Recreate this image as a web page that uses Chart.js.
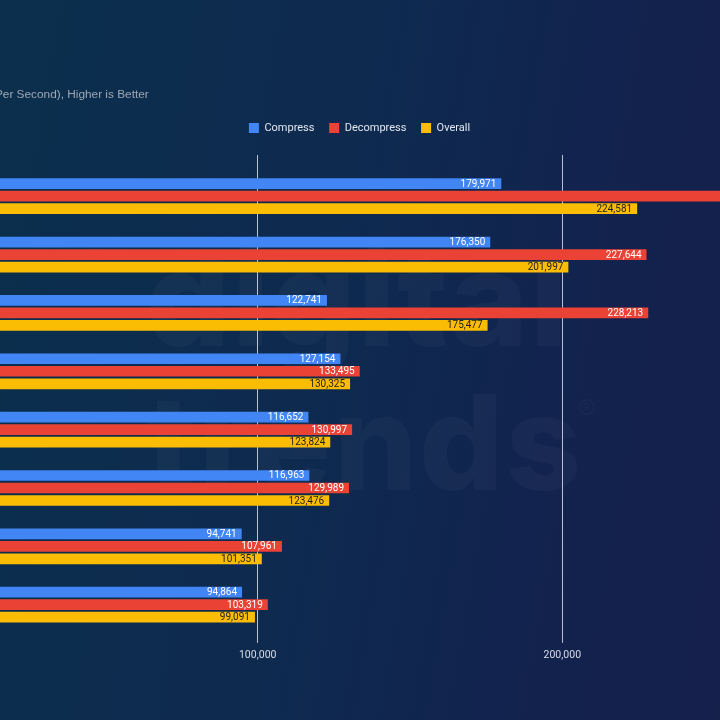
<!DOCTYPE html>
<html>
<head>
<meta charset="utf-8">
<script src="https://cdn.jsdelivr.net/npm/chart.js@4.4.1/dist/chart.umd.min.js"></script>
<style>
  html, body { margin: 0; padding: 0; width: 720px; height: 720px; overflow: hidden; }
  body {
    position: relative;
    background: linear-gradient(100deg, #0b2f4d 0%, #0e2a4f 45%, #12234e 75%, #15204b 100%);
  }
  #wm {
    position: absolute; left: 146px; top: 242px;
    font-family: Inter, "Open Sans", sans-serif; font-weight: 800;
    font-size: 132px; line-height: 112px; letter-spacing: 2px;
    color: rgba(255,255,255,0.03); white-space: nowrap; user-select: none;
  }
  #wm sup { font-size: 28px; font-weight: 400; vertical-align: 70px; margin-left: -6px; }
  #wrap { position: absolute; left: -170px; top: 0; width: 1081px; height: 720px; }
</style>
</head>
<body>
<div id="wm">digital<br>trends<sup>®</sup></div>
<div id="wrap"><canvas id="c" width="1081" height="720"></canvas></div>
<script>
// ---- data ----
const categories = ["Ryzen 9 7950X", "Core i9-13900K", "Ryzen 9 7900X", "Core i7-13700K",
                    "Ryzen 7 7700X", "Core i7-12700K", "Ryzen 5 7600X", "Core i5-13400"];
const seriesNames = ["Compress", "Decompress", "Overall"];
const compress   = [179971, 176350, 122741, 127154, 116652, 116963, 94741, 94864];
const decompress = [269191, 227644, 228213, 133495, 130997, 129989, 107961, 103319];
const overall    = [224581, 201997, 175477, 130325, 123824, 123476, 101351, 99091];
const xTicks = [0, 100000, 200000];

const colors = ["#4285f4", "#ea4335", "#fbbc04"];
const labelColors = ["#ffffff", "#ffffff", "#1e1e1e"];
const gridColor = "rgba(215,222,235,0.85)";

const barLabels = {
  id: "barLabels",
  afterDatasetsDraw(chart) {
    const ctx = chart.ctx;
    ctx.save();
    ctx.font = "10px Roboto";
    ctx.textAlign = "right";
    ctx.textBaseline = "middle";
    chart.data.datasets.forEach((ds, i) => {
      const meta = chart.getDatasetMeta(i);
      meta.data.forEach((el, j) => {
        ctx.fillStyle = labelColors[i];
        ctx.fillText(ds.data[j].toLocaleString("en-US"), el.x - 5, el.y + 0.5);
      });
    });
    ctx.restore();
  }
};

new Chart(document.getElementById("c"), {
  type: "bar",
  data: {
    labels: categories,
    datasets: [
      { label: seriesNames[0], data: compress,   backgroundColor: colors[0] },
      { label: seriesNames[1], data: decompress, backgroundColor: colors[1] },
      { label: seriesNames[2], data: overall,    backgroundColor: colors[2] }
    ]
  },
  options: {
    indexAxis: "y",
    responsive: false,
    animation: false,
    categoryPercentage: 0.643,
    barPercentage: 0.856,
    layout: { padding: { left: 28.2, right: 50.2, top: 20, bottom: 56.1 } },
    plugins: {
      title: {
        display: true, text: "7-Zip Benchmark", align: "start",
        color: "#e6e9ef", font: { family: "Roboto", size: 16, weight: "bold" },
        padding: { top: 40.6, bottom: 8 }
      },
      subtitle: {
        display: true, text: "MIPS (Million Instructions Per Second), Higher is Better", align: "start",
        color: "#9ea7b4", font: { family: "'Liberation Sans', Arial, sans-serif", size: 11.83 },
        padding: { top: 0, bottom: 5.8 }
      },
      legend: {
        display: true, position: "top", align: "center",
        labels: {
          boxWidth: 10, boxHeight: 10, padding: 14.7,
          color: "#e3e7ee", font: { family: "Roboto", size: 11 }
        }
      },
      tooltip: { enabled: false }
    },
    scales: {
      x: {
        type: "linear", position: "bottom", min: 0, max: 298000,
        afterBuildTicks(s) { s.ticks = xTicks.map(v => ({ value: v })); },
        afterFit(s) { s.height = 30; },
        grid: { color: gridColor, lineWidth: 1, drawTicks: true, tickLength: 9, tickColor: gridColor },
        border: { display: false },
        ticks: {
          padding: 6.5, color: "#d9dee8", font: { family: "Roboto", size: 10.5 },
          callback: v => Number(v).toLocaleString("en-US")
        }
      },
      x2: {
        type: "linear", position: "top", min: 0, max: 298000,
        afterBuildTicks(s) { s.ticks = xTicks.map(v => ({ value: v })); },
        afterFit(s) { s.height = 23.5; },
        grid: { drawOnChartArea: false, drawTicks: true, tickLength: 12, color: gridColor, tickColor: gridColor },
        border: { display: false },
        ticks: { display: false }
      },
      y: {
        type: "category",
        afterFit(s) { s.width = 94.9; },
        grid: { display: false },
        border: { display: false },
        ticks: { color: "#d9dee8", font: { family: "Roboto", size: 11 } }
      }
    }
  },
  plugins: [barLabels]
});
</script>
</body>
</html>
